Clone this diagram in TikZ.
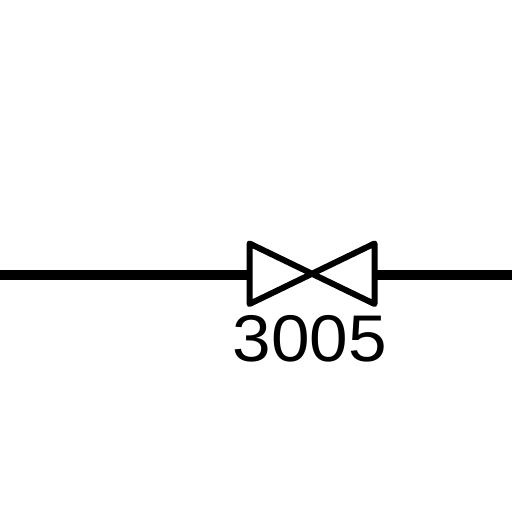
\documentclass[tikz,border=0pt]{standalone}
\usepackage{fontspec}
\setmainfont{Liberation Sans}
\tikzset{pipe/.style={line width=10pt},
valvebody/.style={line width=6pt,line join=round},
taglabel/.style={inner sep=0pt,xscale=1.05,font=\fontsize{66}{66}\selectfont}}
\begin{document}
\begin{tikzpicture}[x=1pt,y=1pt]
\useasboundingbox (0,0) rectangle (512,512);
\fill[white] (0,0) rectangle (512,512);
\coordinate (W) at (0,237);
\coordinate (E) at (512,237);
\coordinate (VL) at (249.5,237);
\coordinate (VR) at (374.5,237);
\coordinate (LT) at (249.5,268.5);
\coordinate (LB) at (249.5,208);
\coordinate (RT) at (374.5,268.5);
\coordinate (RB) at (374.5,208);
\draw[pipe] (W) -- (VL);
\draw[pipe] (VR) -- (E);
\draw[valvebody] (LT) -- (RB) -- (RT) -- (LB) -- cycle;
\node[taglabel] (tag) at (310,173.5) {3005};
\end{tikzpicture}
\end{document}
